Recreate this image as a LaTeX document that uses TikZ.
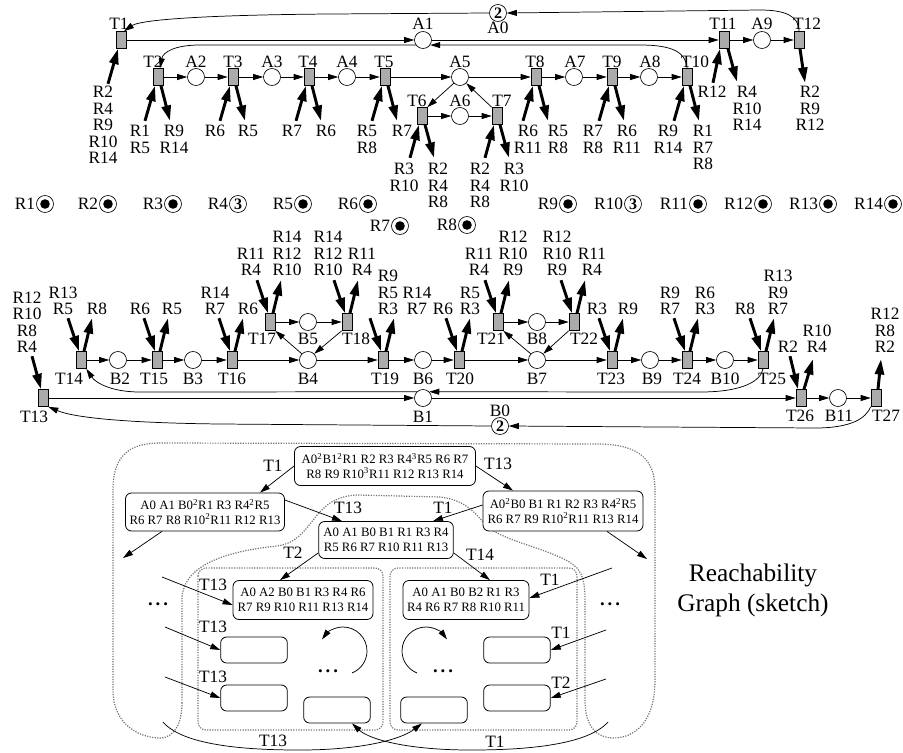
\documentclass[tikz,border=0pt]{standalone}
\usepackage{fontspec}
\setmainfont{Liberation Serif}
\usetikzlibrary{arrows.meta,calc}
\begin{document}
\begin{tikzpicture}[x=0.75pt,y=-0.75pt,
 tr/.style={draw, fill=black!33, minimum width=7.5pt, minimum height=12.75pt, inner sep=0pt, line width=0.5pt},
 pl/.style={draw, circle, minimum size=12.75pt, inner sep=0pt, line width=0.5pt, font=\fontsize{12}{12}\selectfont\bfseries},
 lb/.style={font=\fontsize{13}{12.4}\selectfont, inner sep=0pt, align=center},
 ln/.style={lb, anchor=north},
 ls/.style={lb, anchor=south},
 ar/.style={-{Triangle[length=7.5pt,width=4.5pt]}, line width=0.55pt},
 rs/.style={-{Triangle[length=11.5pt,width=6.8pt]}, line width=2.2pt},
 bx/.style={draw, fill=white, rounded corners=4.5pt, line width=0.6pt, font=\fontsize{9.6}{11.2}\selectfont, align=center, inner sep=1pt},
 eb/.style={draw, fill=white, rounded corners=4.5pt, line width=0.6pt, minimum width=50pt, minimum height=19.5pt, inner sep=0pt},
 dt/.style={draw=black!55, line width=0.9pt, densely dotted},
 tok/.style={circle, fill=black, minimum size=7.2pt, inner sep=0pt},
 dd/.style={font=\fontsize{14}{14}\selectfont\bfseries, inner sep=0pt},
]
\useasboundingbox (0,0) rectangle (903,753);

% ================= TOP NET =================
\node[tr] (T1) at (121,40) {};
\node[pl] (A1) at (423,40) {};
\node[pl] (A0) at (498,13) {2};
\node[tr] (T11) at (724,40) {};
\node[pl] (A9) at (762,40) {};
\node[tr] (T12) at (799,40) {};
\foreach \n/\x in {T2/158,T3/233,T4/309,T5/385,T8/536,T9/612,T10/687} \node[tr] (\n) at (\x,77) {};
\foreach \n/\x in {A2/196,A3/272,A4/347,A5/460,A7/574,A8/649} \node[pl] (\n) at (\x,77) {};
\node[tr] (T6) at (422,116) {};
\node[pl] (A6) at (460,116) {};
\node[tr] (T7) at (497,116) {};

\foreach \t/\x/\y in {T1/119/24, A1/423/24, A0/498/28, T11/723/24, A9/762/24, T12/807/24,
  T2/153/62, A2/196/62, T3/233/62, A3/272/62, T4/308/62, A4/347/62, T5/384/62, A5/460/62,
  T8/535/62, A7/575/62, T9/612/62, A8/650/62, T10/695/62, T6/417/101, A6/460/101, T7/502/101}
  \node[lb] (n\t) at (\x,\y) {\t};

% flow arcs
\draw[ar] (T1) -- (A1);
\draw[ar] (A1) -- (T11);
\draw[ar] (T11) -- (A9);
\draw[ar] (A9) -- (T12);
\draw[ar] (T12.north) .. controls (799,16) and (785,10) .. (760,10) -- (A0.east);
\draw[ar] (A0.west) -- (330,14) .. controls (200,15) and (140,20) .. ($(T1.north)+(3,0)$);
\draw[ar] (T10.north) .. controls (686,52) and (672,45) .. (640,45) -- (A1.-35);
\draw[ar] (A1.-145) -- (200,45) .. controls (175,45) and (163,52) .. ($(T2.north)+(2,0)$);
\draw[ar] (T2) -- (A2); \draw[ar] (A2) -- (T3); \draw[ar] (T3) -- (A3); \draw[ar] (A3) -- (T4);
\draw[ar] (T4) -- (A4); \draw[ar] (A4) -- (T5); \draw[ar] (T5) -- (A5); \draw[ar] (A5) -- (T8);
\draw[ar] (T8) -- (A7); \draw[ar] (A7) -- (T9); \draw[ar] (T9) -- (A8); \draw[ar] (A8) -- (T10);
\draw[ar] (A5.-135) -- (T6.north east);
\draw[ar] (T6) -- (A6); \draw[ar] (A6) -- (T7);
\draw[ar] (T7.north west) -- (A5.-45);

% resource arcs (top)
\draw[rs] ($(T1.south)+(-13,35)$) -- ($(T1.south)+(-3,0)$);
\foreach \t in {T2,T3,T4,T5,T8,T9,T10} {
  \draw[rs] ($(\t.south)+(-13,35)$) -- ($(\t.south)+(-3,0)$);
  \draw[rs] ($(\t.south)+(3,0)$) -- ($(\t.south)+(12,35)$);
}
\foreach \t in {T6,T7} {
  \draw[rs] ($(\t.south)+(-12,33)$) -- ($(\t.south)+(-3,0)$);
  \draw[rs] ($(\t.south)+(3,0)$) -- ($(\t.south)+(12,33)$);
}
\draw[rs] ($(T11.south)+(-11,34)$) -- ($(T11.south)+(-4,0)$);
\draw[rs] ($(T11.south)+(4,0)$) -- ($(T11.south)+(13,33)$);
\draw[rs] ($(T12.south)+(1,0)$) -- ($(T12.south)+(6,34)$);

% resource labels (top)
\node[ln] (iT1) at (103,86) {R2\\R4\\R9\\R10\\R14};
\node[ln] (iT2) at (140,125) {R1\\R5};
\node[ln] (oT2) at (174,125) {R9\\R14};
\node[ln] (iT3) at (215,125) {R6};
\node[ln] (oT3) at (248,125) {R5};
\node[ln] (iT4) at (292,125) {R7};
\node[ln] (oT4) at (326,125) {R6};
\node[ln] (iT5) at (367,125) {R5\\R8};
\node[ln] (oT5) at (402,125) {R7};
\node[ln] (iT6) at (404,163) {R3\\R10};
\node[ln] (oT6) at (438,163) {R2\\R4\\R8};
\node[ln] (iT7) at (480,163) {R2\\R4\\R8};
\node[ln] (oT7) at (514,163) {R3\\R10};
\node[ln] (iT8) at (528,125) {R6\\R11};
\node[ln] (oT8) at (558,125) {R5\\R8};
\node[ln] (iT9) at (593,125) {R7\\R8};
\node[ln] (oT9) at (627,125) {R6\\R11};
\node[ln] (iT10) at (668,125) {R9\\R14};
\node[ln] (oT10) at (703,125) {R1\\R7\\R8};
\node[ln] (iT11) at (712,86) {R12};
\node[ln] (oT11) at (747,86) {R4\\R10\\R14};
\node[ln] (oT12) at (810,86) {R2\\R9\\R12};

% ================= RESOURCES =================
\foreach \r/\x/\y in {R1/45/204, R2/108/204, R3/173/204, R5/303/204, R6/368/204, R7/400/226, R8/467/225,
  R9/568/204, R11/698/204, R12/763/204, R13/828/204, R14/893/204} {
  \node[pl] (\r) at (\x,\y) {};
  \node[tok] (k\r) at (\r) {};
  \node[lb, anchor=east] (n\r) at ([xshift=-0.6pt]\r.west) {\r};
}
\foreach \r/\x/\y in {R4/238/204, R10/633/204} {
  \node[pl] (\r) at (\x,\y) {3};
  \node[lb, anchor=east] (n\r) at ([xshift=-0.6pt]\r.west) {\r};
}

% ================= MIDDLE NET =================
\foreach \n/\x in {T14/81,T15/157,T16/232,T19/383,T20/459,T23/612,T24/687,T25/763} \node[tr] (\n) at (\x,360) {};
\foreach \n/\x in {B2/118,B3/193,B4/308,B6/423,B7/537,B9/650,B10/725} \node[pl] (\n) at (\x,360) {};
\foreach \n/\x in {T17/270,T18/347,T21/498,T22/574} \node[tr] (\n) at (\x,322) {};
\foreach \n/\x in {B5/308,B8/537} \node[pl] (\n) at (\x,322) {};
\node[tr] (T13) at (43,398) {};
\node[pl] (B1) at (423,398) {};
\node[tr] (T26) at (801,398) {};
\node[pl] (B11) at (838,398) {};
\node[tr] (T27) at (876,398) {};
\node[pl] (B0) at (500,426) {2};

\foreach \t/\x/\y in {T14/69/379, B2/120/379, T15/154/379, B3/193/379, T16/232/379, B4/308/379,
  T19/385/379, B6/423/379, T20/460/379, B7/537/379, T23/611/379, B9/652/379, T24/687/379,
  B10/725/379, T25/772/379, T17/262/339, B5/308/339, T18/356/339, T21/491/339, B8/537/339,
  T22/584/339, T13/34/417, B1/423/417, T26/800/416, B11/839/416, T27/886/416, B0/500/411}
  \node[lb] (n\t) at (\x,\y) {\t};

\draw[ar] (T14) -- (B2); \draw[ar] (B2) -- (T15); \draw[ar] (T15) -- (B3); \draw[ar] (B3) -- (T16);
\draw[ar] (T16) -- (B4); \draw[ar] (B4) -- (T19); \draw[ar] (T19) -- (B6); \draw[ar] (B6) -- (T20);
\draw[ar] (T20) -- (B7); \draw[ar] (B7) -- (T23); \draw[ar] (T23) -- (B9); \draw[ar] (B9) -- (T24);
\draw[ar] (T24) -- (B10); \draw[ar] (B10) -- (T25);
\draw[ar] (B4.135) -- (T17.south east);
\draw[ar] (T17) -- (B5); \draw[ar] (B5) -- (T18);
\draw[ar] (T18.south west) -- (B4.45);
\draw[ar] (B7.135) -- (T21.south east);
\draw[ar] (T21) -- (B8); \draw[ar] (B8) -- (T22);
\draw[ar] (T22.south west) -- (B7.45);
\draw[ar] (T13) -- (B1);
\draw[ar] (B1) -- (T26);
\draw[ar] (T26) -- (B11);
\draw[ar] (B11) -- (T27);
\draw[ar] (T25.south) .. controls (761,380) and (745,392) .. (700,392) -- (B1.45);
\draw[ar] (B1.135) -- (140,392) .. controls (110,392) and (95,382) .. (T14.south east);
\draw[ar] (T27.south west) .. controls (866,418) and (852,428) .. (815,428) -- (B0.east);
\draw[ar] (B0.west) -- (220,424) .. controls (130,423) and (75,418) .. (T13.south east);

% resource arcs (middle)
\foreach \t in {T14,T15,T16,T17,T18,T19,T20,T21,T22,T23,T24,T25} {
  \draw[rs] ($(\t.north)+(-13,-33)$) -- ($(\t.north)+(-2,0)$);
  \draw[rs] ($(\t.north)+(3,0)$) -- ($(\t.north)+(11,-33)$);
}
\draw[rs] ($(T13.north)+(-11,-33)$) -- ($(T13.north)+(-2,0)$);
\draw[rs] ($(T26.north)+(-11,-33)$) -- ($(T26.north)+(-3,0)$);
\draw[rs] ($(T26.north)+(3,0)$) -- ($(T26.north)+(12,-30)$);
\draw[rs] ($(T27.north)+(2,0)$) -- ($(T27.north)+(5,-30)$);

% resource labels (middle)
\node[ls] (iT13) at (27,353) {R12\\R10\\R8\\R4};
\node[ls] (iT14) at (63,315) {R13\\R5};
\node[ls] (oT14) at (97,315) {R8};
\node[ls] (iT15) at (140,315) {R6};
\node[ls] (oT15) at (172,315) {R5};
\node[ls] (iT16) at (215,315) {R14\\R7};
\node[ls] (oT16) at (248,315) {R6};
\node[ls] (iT17) at (251,276) {R11\\R4};
\node[ls] (oT17) at (287,276) {R14\\R12\\R10};
\node[ls] (iT18) at (328,276) {R14\\R12\\R10};
\node[ls] (oT18) at (362,276) {R11\\R4};
\node[ls] (iT19) at (388,315) {R9\\R5\\R3};
\node[ls] (oT19) at (417,315) {R14\\R7};
\node[ls] (iT20) at (443,315) {R6};
\node[ls] (oT20) at (470,315) {R5\\R3};
\node[ls] (iT21) at (479,276) {R11\\R4};
\node[ls] (oT21) at (513,276) {R12\\R10\\R9};
\node[ls] (iT22) at (557,276) {R12\\R10\\R9};
\node[ls] (oT22) at (592,276) {R11\\R4};
\node[ls] (iT23) at (597,315) {R3};
\node[ls] (oT23) at (628,315) {R9};
\node[ls] (iT24) at (670,315) {R9\\R7};
\node[ls] (oT24) at (705,315) {R6\\R3};
\node[ls] (iT25) at (745,315) {R8};
\node[ls] (oT25) at (778,315) {R13\\R9\\R7};
\node[ls] (iT26) at (788,353) {R2};
\node[ls] (oT26) at (817,353) {R10\\R4};
\node[ls] (oT27) at (885,353) {R12\\R8\\R2};

% ================= REACHABILITY GRAPH =================
\draw[dt] (182,703) -- (182,600) .. controls (182,560) and (240,550) .. (277,546)
  .. controls (315,541) and (310,497) .. (357,495) -- (440,497)
  .. controls (465,500) and (474,512) .. (485,524)
  .. controls (500,542) and (560,550) .. (577,568)
  .. controls (584,576) and (585,588) .. (585,600) -- (585,700)
  .. controls (585,728) and (598,738) .. (613,738) .. controls (635,738) and (655,722) .. (655,680)
  -- (655,490) .. controls (655,460) and (640,445) .. (600,444) -- (160,443)
  .. controls (125,443) and (113,460) .. (113,490) -- (113,690)
  .. controls (113,725) and (140,738) .. (160,738) .. controls (175,738) and (182,722) .. cycle;
\draw[dt, rounded corners=6pt] (198,568) rectangle (383,730);
\draw[dt, rounded corners=6pt] (390,568) rectangle (577,730);

\node[bx, minimum width=135.75pt, minimum height=29.25pt] (g0) at (385,466)
  {A0\textsuperscript{2}B1\textsuperscript{2}R1 R2 R3 R4\textsuperscript{3}R5 R6 R7\\R8 R9 R10\textsuperscript{3}R11 R12 R13 R14};
\node[bx, minimum width=119.25pt, minimum height=28.5pt] (gL) at (205,512)
  {A0 A1 B0\textsuperscript{2}R1 R3 R4\textsuperscript{2}R5\\R6 R7 R8 R10\textsuperscript{2}R11 R12 R13};
\node[bx, minimum width=120pt, minimum height=30pt] (gR) at (563,511)
  {A0\textsuperscript{2}B0 B1 R1 R2 R3 R4\textsuperscript{2}R5\\R6 R7 R9 R10\textsuperscript{2}R11 R13 R14};
\node[bx, minimum width=101pt, minimum height=27.75pt] (gC) at (386,540)
  {A0 A1 B0 B1 R1 R3 R4\\R5 R6 R7 R10 R11 R13};
\node[bx, minimum width=105pt, minimum height=29.25pt] (gLL) at (303,600)
  {A0 A2 B0 B1 R3 R4 R6\\R7 R9 R10 R11 R13 R14};
\node[bx, minimum width=94.5pt, minimum height=29.25pt] (gRR) at (466,600)
  {A0 A1 B0 B2 R1 R3\\R4 R6 R7 R8 R10 R11};
\node[eb] (e1) at (254,650) {};
\node[eb] (e2) at (254,698) {};
\node[eb] (e3) at (337,710) {};
\node[eb] (e4) at (434,710) {};
\node[eb] (e5) at (517,650) {};
\node[eb] (e6) at (517,698) {};

\draw[ar] (g0.west) -- ($(gL.north)+(55,0)$);
\draw[ar] (g0.east) -- ($(gR.north)+(-50,0)$);
\draw[ar] ($(gL.east)+(0,-12)$) -- ($(gC.north)+(-44,0)$);
\draw[ar] ($(gR.west)+(0,-6)$) -- ($(gC.north)+(47,0)$);
\coordinate (s5) at (123,558);
\coordinate (s6) at (647,559);
\draw[ar] ($(gL.south)+(-43,0)$) -- (s5);
\draw[ar] ($(gR.south)+(44,0)$) -- (s6);
\draw[ar] ($(gC.south west)+(0,-6)$) -- ($(gLL.north)+(-23,0)$);
\draw[ar] ($(gC.south east)+(0,-6)$) -- ($(gRR.north)+(24,0)$);
\coordinate (s9) at (162,577);
\coordinate (s10) at (612,568);
\coordinate (s11) at (165,627);
\coordinate (s12) at (165,677);
\coordinate (s13) at (606,630);
\coordinate (s14) at (606,679);
\draw[ar] (s9) -- ($(gLL.west)+(0,5)$);
\draw[ar] (s10) -- ($(gRR.east)+(0,-2)$);
\draw[ar] (s11) -- (e1.west);
\draw[ar] (s12) -- (e2.west);
\draw[ar] (s13) -- (e5.east);
\draw[ar] (s14) -- (e6.east);

\coordinate (c1) at (163,722);
\coordinate (c2) at (608,722);
\draw[ar] (c1) .. controls (185,748) and (260,750) .. (300,750) .. controls (360,750) and (400,740) .. ($(e4.south)+(-12,0)$);
\draw[ar] (c2) .. controls (585,748) and (510,750) .. (470,750) .. controls (410,750) and (370,740) .. ($(e3.south)+(15,0)$);

\draw[ar] (352,673) .. controls (361,669.3) and (367,660.7) .. (367,651) .. controls (367,637.75) and (356.25,627) .. (343,627) .. controls (334.3,627) and (327.2,632.4) .. (322,639.4);
\draw[ar] (417,673) .. controls (408,669.3) and (402,660.7) .. (402,651) .. controls (402,637.75) and (412.75,627) .. (426,627) .. controls (434.7,627) and (441.8,632.4) .. (447,639.4);

\foreach \nm/\t/\x/\y in {a/T1/273/466, b/T13/498/464, c/T13/348/508, d/T1/443/508, e/T2/293/553,
  f/T14/480/555, g/T13/213/585, h/T1/550/580, i/T13/213/627, j/T13/213/677, k/T1/561/633,
  l/T2/561/683, m/T13/273/741, n/T1/495/742}
  \node[lb] (q\nm) at (\x,\y) {\t};

\node[dd] (d1) at (158,604) {.\hspace{2.2pt}.\hspace{2.2pt}.};
\node[dd] (d2) at (610,604) {.\hspace{2.2pt}.\hspace{2.2pt}.};
\node[dd] (d3) at (328,671) {.\hspace{2.2pt}.\hspace{2.2pt}.};
\node[dd] (d4) at (443,671) {.\hspace{2.2pt}.\hspace{2.2pt}.};

\node[font=\fontsize{19}{22.5}\selectfont, inner sep=0pt, anchor=base] (title1) at (753,581) {Reachability};
\node[font=\fontsize{19}{22.5}\selectfont, inner sep=0pt, anchor=base] (title2) at (753,611) {Graph (sketch)};
\end{tikzpicture}
\end{document}
